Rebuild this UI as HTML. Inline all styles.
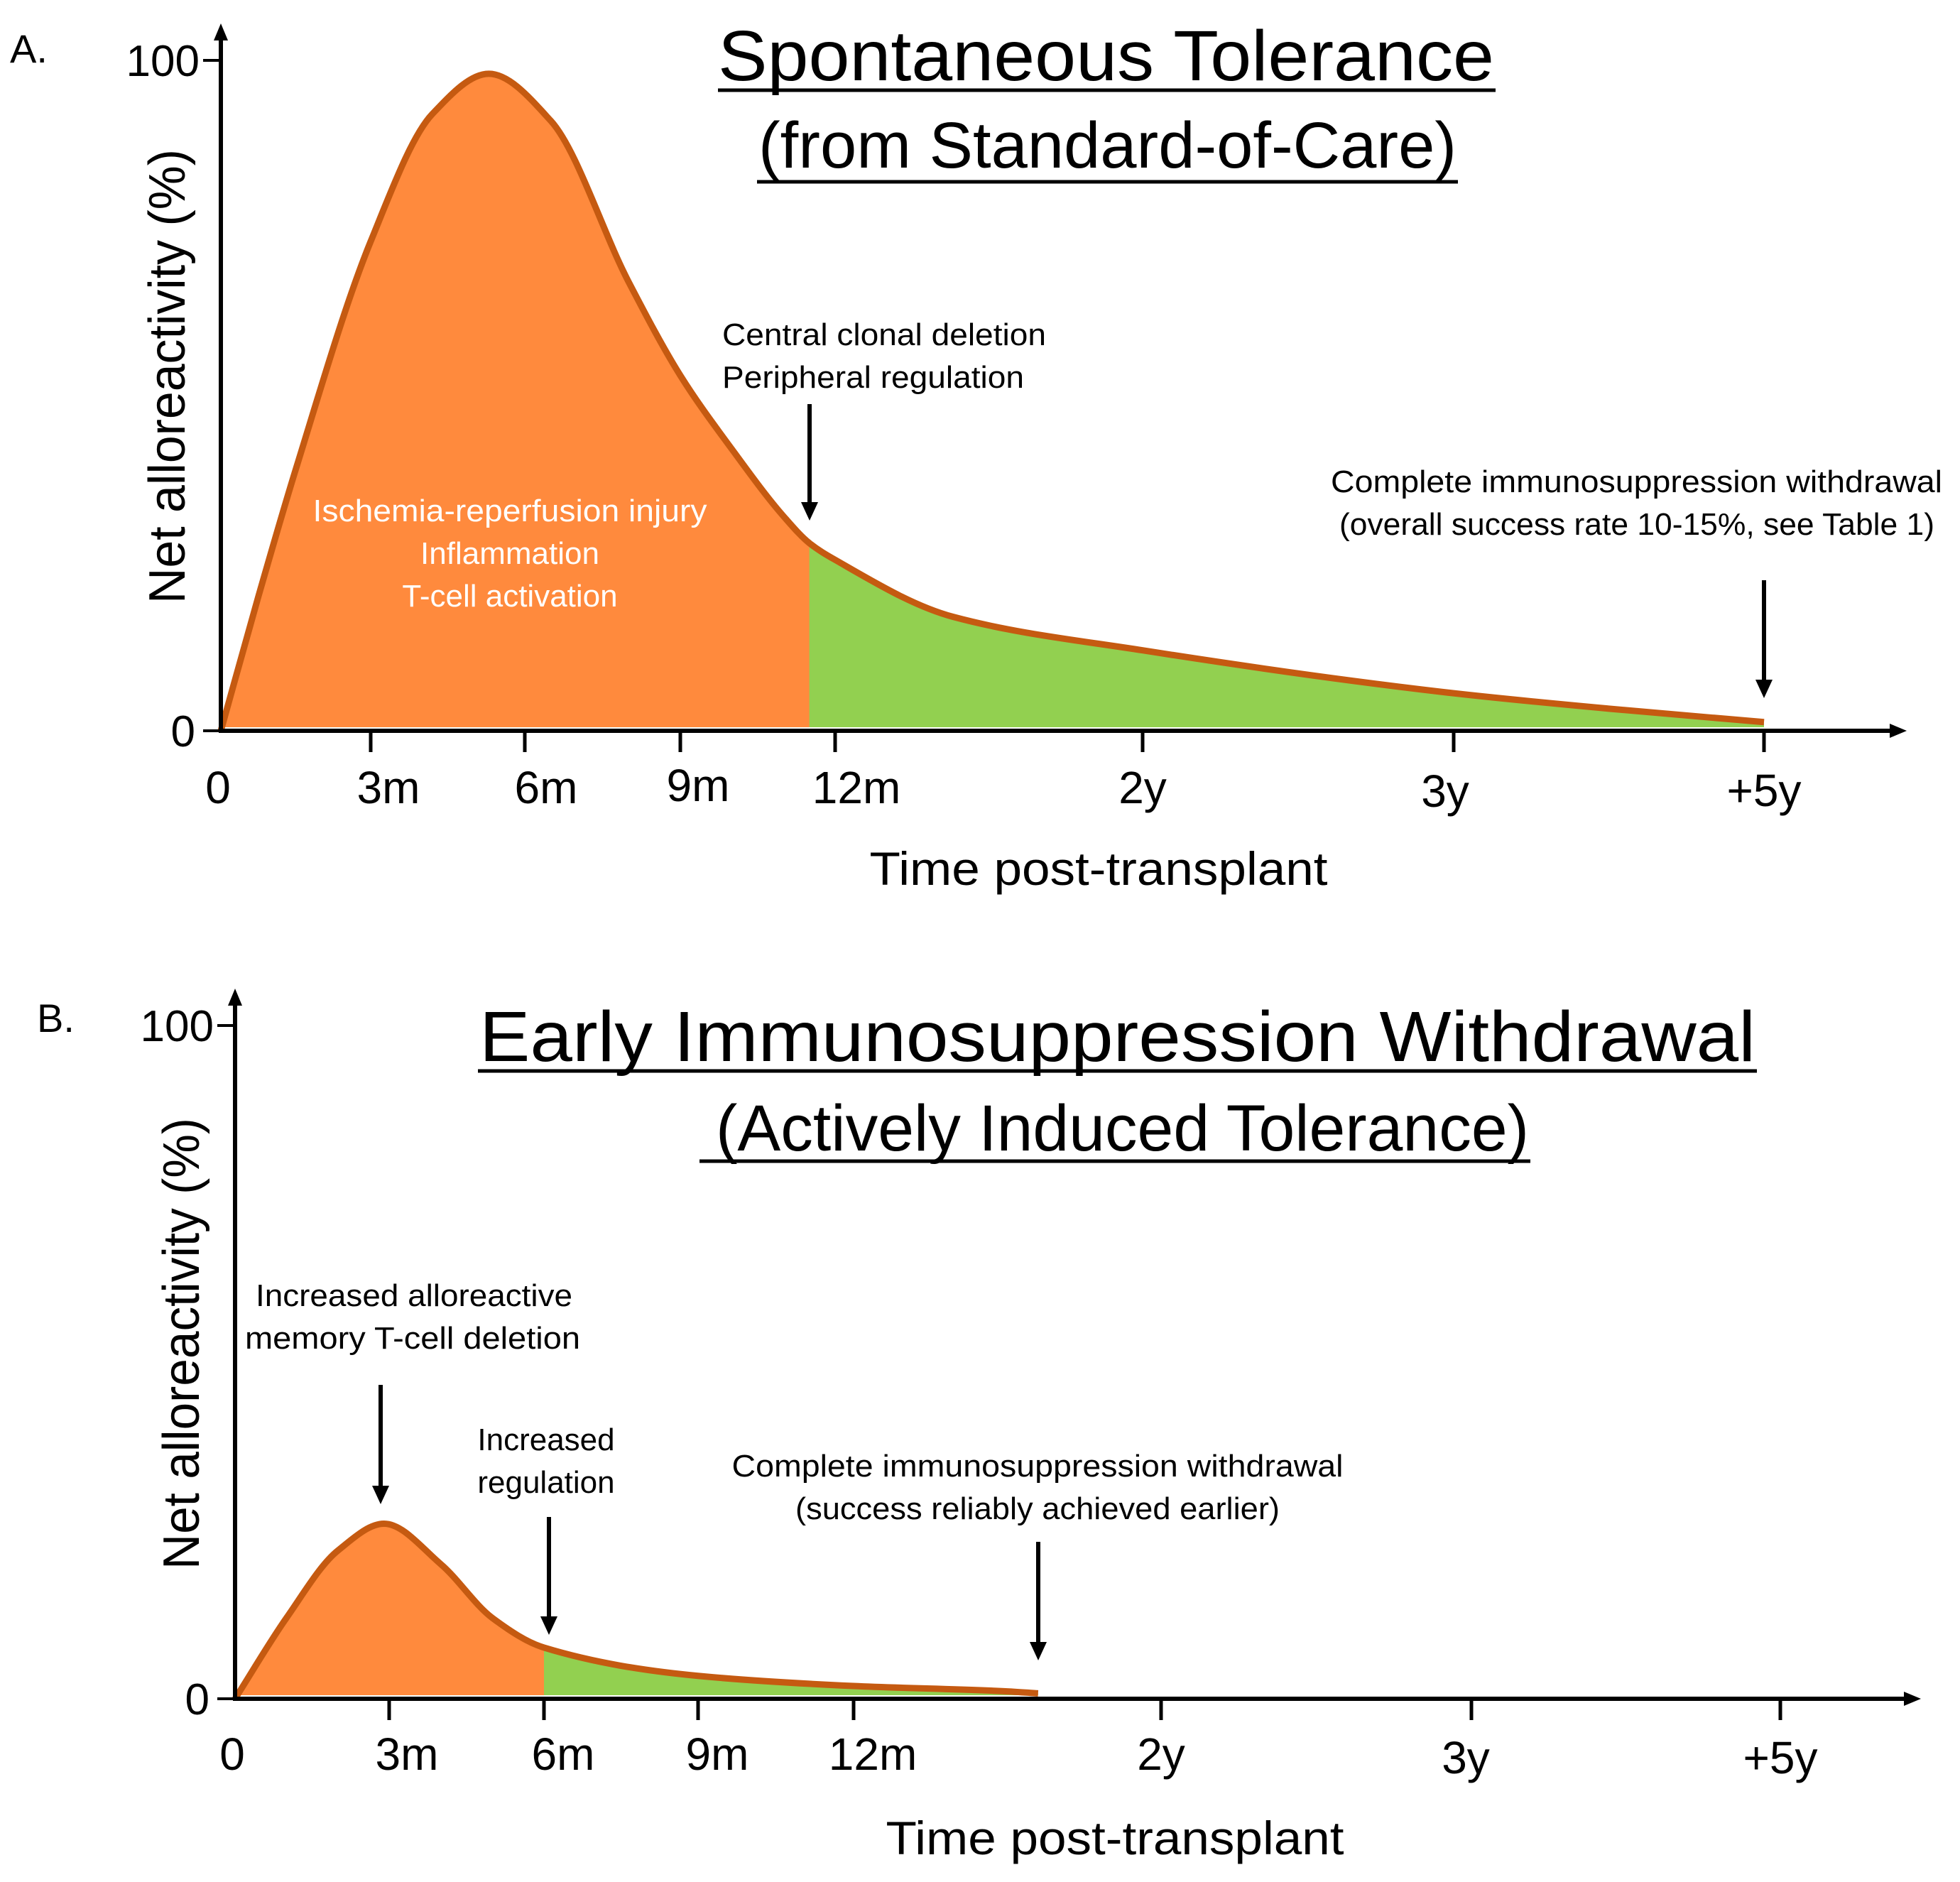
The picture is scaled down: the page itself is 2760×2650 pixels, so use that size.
<!DOCTYPE html>
<html><head><meta charset="utf-8"><style>
html,body{margin:0;padding:0;background:#fff}
svg{display:block}
text{font-family:"Liberation Sans",sans-serif;fill:#000}
</style></head><body>
<svg id="chart" width="2760" height="2650" viewBox="0 0 2760 2650" xmlns="http://www.w3.org/2000/svg">
<g id="panels"></g>
</svg>
<script>
// shared axis ticks (months) and labels
const tickMonths = [0, 3, 6, 9, 12, 24, 36, 60];
const tickLabels = ["0", "3m", "6m", "9m", "12m", "2y", "3y", "+5y"];
// panel A data (months, % net alloreactivity)
const aMonths = [0, 0.75, 1.5, 3, 4.2, 5.3, 6.5, 8, 9, 10, 11, 11.5, 12, 16.6, 24, 36, 48, 60];
const aValues = [0, 20, 39, 73, 92, 98, 91, 67, 53, 42, 32, 28, 25.5, 17, 12, 5.6, 3.3, 1.3];
const aSplit = 11.5;
// panel B data
const bMonths = [0, 1, 2, 2.9, 4, 5, 6, 9, 12, 18, 19.2];
const bValues = [0, 12, 22, 26, 20, 12, 7.6, 3.4, 1.9, 1.1, 0.8];
const bSplit = 6;

const NS = "http://www.w3.org/2000/svg";
const root = document.getElementById("panels");
function mk(tag, attrs, parent) {
  const e = document.createElementNS(NS, tag);
  for (const k in attrs) e.setAttribute(k, attrs[k]);
  (parent || root).appendChild(e);
  return e;
}
function txt(s, attrs, parent) { const t = mk("text", attrs, parent); t.textContent = s; return t; }
function monotonePath(pts) {
  const n = pts.length, dx = [], sl = [], m = [];
  for (let i = 0; i < n - 1; i++) { dx[i] = pts[i+1][0] - pts[i][0]; sl[i] = (pts[i+1][1] - pts[i][1]) / dx[i]; }
  m[0] = sl[0]; m[n-1] = sl[n-2];
  for (let i = 1; i < n - 1; i++) {
    if (sl[i-1] * sl[i] <= 0) m[i] = 0;
    else m[i] = 3 * (dx[i-1] + dx[i]) / ((2*dx[i] + dx[i-1]) / sl[i-1] + (dx[i] + 2*dx[i-1]) / sl[i]);
  }
  let d = "M" + pts[0][0] + "," + pts[0][1];
  for (let i = 0; i < n - 1; i++) {
    const h = dx[i] / 3;
    d += " C" + (pts[i][0] + h) + "," + (pts[i][1] + m[i]*h) + " " + (pts[i+1][0] - h) + "," + (pts[i+1][1] - m[i+1]*h) + " " + pts[i+1][0] + "," + pts[i+1][1];
  }
  return d;
}
function arrowV(x, y1, y2, name, parent) {
  const g = mk("g", {}, parent);
  
  
  mk("line", { x1: x, y1: y1, x2: x, y2: y2 - 20, stroke: "#000", "stroke-width": 6 }, g);
  mk("polygon", { points: (x-12) + "," + (y2-26) + " " + (x+12) + "," + (y2-26) + " " + x + "," + y2, fill: "#000" }, g);
  return g;
}

function panel(cfg, months, values, split) {
  const g = mk("g", {});
  
  
  const tickPx = cfg.tickPx;
  function xs(m) {
    for (let i = 0; i < tickMonths.length - 1; i++) {
      if (m <= tickMonths[i + 1]) {
        const f = (m - tickMonths[i]) / (tickMonths[i + 1] - tickMonths[i]);
        return tickPx[i] + f * (tickPx[i + 1] - tickPx[i]);
      }
    }
    return tickPx[tickPx.length - 1];
  }
  function ys(v) { return cfg.y0 + (cfg.y100 - cfg.y0) * v / 100; }
  const pts = months.map((m, i) => [xs(m), ys(values[i])]);
  const d = monotonePath(pts);
  const last = pts[pts.length - 1];
  const base = cfg.y0 - 5;
  const fillD = d + " L" + last[0] + "," + base + " L" + pts[0][0] + "," + base + " Z";
  const cid = cfg.name + "-clip";
  const cp = mk("clipPath", { id: cid }, g);
  mk("rect", { x: xs(split), y: 0, width: 3000, height: 3000 }, cp);
  const o = mk("path", { d: fillD, fill: "#FF8A3D" }, g);
  
  
  const gr = mk("path", { d: fillD, fill: "#92D050", "clip-path": "url(#" + cid + ")" }, g);
  
  
  const ln = mk("path", { d: d, fill: "none", stroke: "#C55A11", "stroke-width": 9, "stroke-linejoin": "round" }, g);
  
  
  // axes
  const ya = mk("line", { x1: cfg.ax, y1: cfg.y0 + 3, x2: cfg.ax, y2: cfg.y100 - 30, stroke: "#000", "stroke-width": 6 }, g);
  
  
  mk("polygon", { points: (cfg.ax-10) + "," + (cfg.y100-28) + " " + (cfg.ax+10) + "," + (cfg.y100-28) + " " + cfg.ax + "," + (cfg.y100-52), fill: "#000" }, g);
  const xa = mk("line", { x1: cfg.ax - 3, y1: cfg.y0, x2: cfg.xEnd - 20, y2: cfg.y0, stroke: "#000", "stroke-width": 6 }, g);
  
  
  mk("polygon", { points: (cfg.xEnd-24) + "," + (cfg.y0-10) + " " + (cfg.xEnd-24) + "," + (cfg.y0+10) + " " + cfg.xEnd + "," + cfg.y0, fill: "#000" }, g);
  mk("line", { x1: cfg.ax - 25, y1: cfg.y100, x2: cfg.ax, y2: cfg.y100, stroke: "#000", "stroke-width": 4 }, g);
  mk("line", { x1: cfg.ax - 25, y1: cfg.y0, x2: cfg.ax, y2: cfg.y0, stroke: "#000", "stroke-width": 4 }, g);
  const t100 = txt("100", { x: cfg.ax - 30, y: cfg.y100 + 22, "font-size": 62, "text-anchor": "end" }, g);
  
  
  const t0 = txt("0", { x: cfg.ax - 36, y: cfg.y0 + 22, "font-size": 62, "text-anchor": "end" }, g);
  
  
  tickMonths.forEach((m, i) => {
    const x = xs(m);
    if (i > 0) mk("line", { x1: x, y1: cfg.y0, x2: x, y2: cfg.y0 + 30, stroke: "#000", "stroke-width": 5 }, g);
    const tl = txt(tickLabels[i], { x: i === 0 ? x - 4 : x + (cfg.labelDx[i] || 0), y: cfg.y0 + cfg.tickDy + (cfg.labelDy[i] || 0), "font-size": 64, "text-anchor": "middle" }, g);
    
    
  });
  return g;
}

panel({ name: "panel-a", ax: 311, y0: 1029, y100: 85, xEnd: 2685, tickPx: [311, 522, 739, 958, 1176, 1609, 2047, 2484], tickDy: 102,
  labelDx: [0, 25, 30, 25, 30, 0, -12, 0], labelDy: [0,0,0,-3,0,0,5,4] }, aMonths, aValues, aSplit);
panel({ name: "panel-b", ax: 331, y0: 2392, y100: 1444, xEnd: 2705, tickPx: [331, 548, 766, 983, 1202, 1635, 2072, 2507], tickDy: 100,
  labelDx: [0, 25, 27, 27, 27, 0, -8, 0], labelDy: [0,0,0,0,0,0,5,5] }, bMonths, bValues, bSplit);

function T(s, name, attrs) { const t = txt(s, attrs);   return t; }
function L(x1, y1, x2, y2, w, name) {
  const l = mk("line", { x1, y1, x2, y2, stroke: "#000", "stroke-width": w });   return l;
}
// Panel A text
T("A.", "panel-a-label", { x: 14, y: 88, "font-size": 56 });
T("Spontaneous  Tolerance", "panel-a-title", { x: 1011, y: 113, "font-size": 100, textLength: 1093, lengthAdjust: "spacingAndGlyphs" });
L(1011, 127, 2106, 127, 5, "title-underline");
T("(from Standard-of-Care)", "panel-a-subtitle", { x: 1068, y: 236, "font-size": 92, textLength: 983, lengthAdjust: "spacingAndGlyphs" });
L(1066, 256, 2053, 256, 5, "subtitle-underline");
T("Net alloreactivity (%)", "panel-a-y-title", { x: 0, y: 0, "font-size": 72, "text-anchor": "middle", transform: "translate(260,530) rotate(-90)", textLength: 640, lengthAdjust: "spacingAndGlyphs" });
T("Time post-transplant", "panel-a-x-title", { x: 1547, y: 1246, "font-size": 66, "text-anchor": "middle", textLength: 645, lengthAdjust: "spacingAndGlyphs" });
T("Central clonal deletion", "annotation-central-deletion", { x: 1017, y: 486, "font-size": 44, textLength: 456, lengthAdjust: "spacingAndGlyphs" });
T("Peripheral regulation", "annotation-peripheral-regulation", { x: 1017, y: 546, "font-size": 44, textLength: 425, lengthAdjust: "spacingAndGlyphs" });
arrowV(1140, 569, 733, "arrow-regulation");
T("Ischemia-reperfusion injury", "label-ischemia", { x: 718, y: 734, "font-size": 44, "text-anchor": "middle", style: "fill:#fff", textLength: 555, lengthAdjust: "spacingAndGlyphs" });
T("Inflammation", "label-inflammation", { x: 718, y: 794, "font-size": 44, "text-anchor": "middle", style: "fill:#fff" });
T("T-cell activation", "label-tcell-activation", { x: 718, y: 854, "font-size": 44, "text-anchor": "middle", style: "fill:#fff" });
T("Complete  immunosuppression  withdrawal", "annotation-withdrawal-a", { x: 1874, y: 693, "font-size": 44, textLength: 861, lengthAdjust: "spacingAndGlyphs" });
T("(overall success rate 10-15%, see Table 1)", "annotation-success-a", { x: 1886, y: 753, "font-size": 44, textLength: 838, lengthAdjust: "spacingAndGlyphs" });
arrowV(2484, 817, 983, "arrow-withdrawal-a");
// Panel B text
T("B.", "panel-b-label", { x: 52, y: 1453, "font-size": 56 });
T("Early Immunosuppression  Withdrawal", "panel-b-title", { x: 675, y: 1494, "font-size": 100, textLength: 1797, lengthAdjust: "spacingAndGlyphs" });
L(673, 1508, 2474, 1508, 5, "title-underline");
T("(Actively Induced Tolerance)", "panel-b-subtitle", { x: 1008, y: 1620, "font-size": 92, textLength: 1145, lengthAdjust: "spacingAndGlyphs" });
L(985, 1635, 2155, 1635, 5, "subtitle-underline");
T("Net alloreactivity (%)", "panel-b-y-title", { x: 0, y: 0, "font-size": 72, "text-anchor": "middle", transform: "translate(280,1892) rotate(-90)", textLength: 636, lengthAdjust: "spacingAndGlyphs" });
T("Time post-transplant", "panel-b-x-title", { x: 1570, y: 2611, "font-size": 66, "text-anchor": "middle", textLength: 645, lengthAdjust: "spacingAndGlyphs" });
T("Increased alloreactive", "annotation-memory-1", { x: 583, y: 1839, "font-size": 44, "text-anchor": "middle", textLength: 446, lengthAdjust: "spacingAndGlyphs" });
T("memory  T-cell deletion", "annotation-memory-2", { x: 581, y: 1899, "font-size": 44, "text-anchor": "middle", textLength: 472, lengthAdjust: "spacingAndGlyphs" });
arrowV(536, 1950, 2118, "arrow-memory-deletion");
T("Increased", "annotation-increased", { x: 769, y: 2042, "font-size": 44, "text-anchor": "middle" });
T("regulation", "annotation-regulation", { x: 769, y: 2102, "font-size": 44, "text-anchor": "middle" });
arrowV(773, 2136, 2302, "arrow-increased-regulation");
T("Complete  immunosuppression  withdrawal", "annotation-withdrawal-b", { x: 1461, y: 2079, "font-size": 44, "text-anchor": "middle", textLength: 861, lengthAdjust: "spacingAndGlyphs" });
T("(success reliably achieved earlier)", "annotation-success-b", { x: 1461, y: 2139, "font-size": 44, "text-anchor": "middle", textLength: 682, lengthAdjust: "spacingAndGlyphs" });
arrowV(1462, 2171, 2338, "arrow-withdrawal-b");
</script>
</body></html>
